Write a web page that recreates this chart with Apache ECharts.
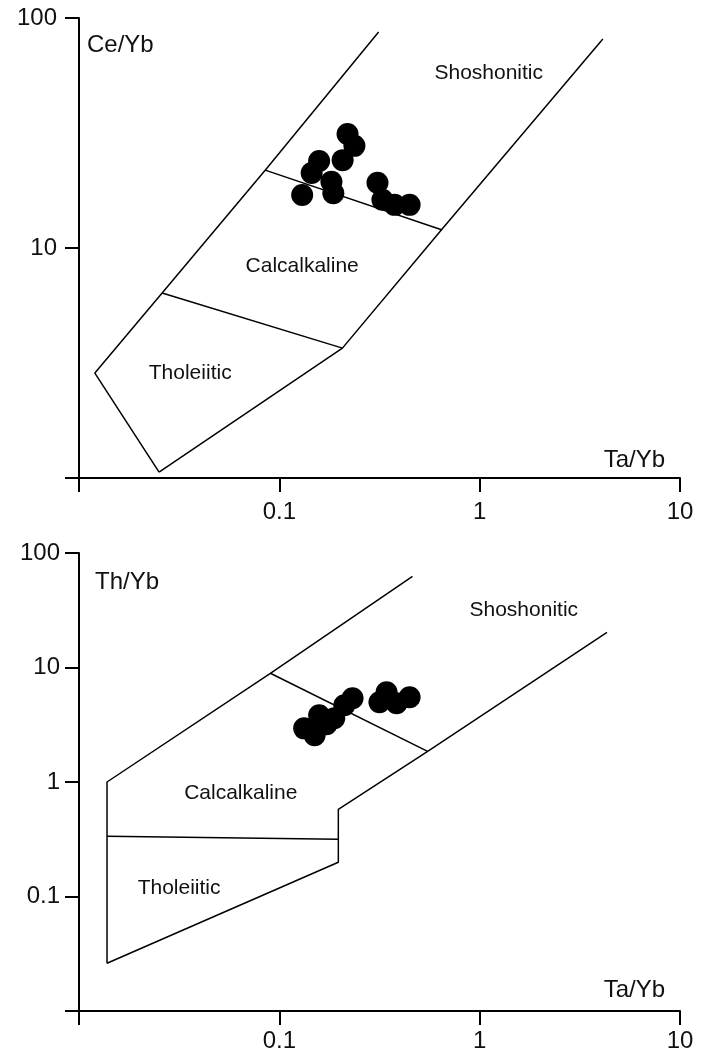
<!DOCTYPE html>
<html>
<head>
<meta charset="utf-8">
<script src="https://cdn.jsdelivr.net/npm/echarts@6/dist/echarts.min.js"></script>
<style>
  html, body { margin: 0; padding: 0; background: #fff; }
  #chart { width: 701px; height: 1057px; }
</style>
</head>
<body>
<div id="chart"></div>
<script>
// ---- Ce/Yb vs Ta/Yb (upper diagram) ----
const ceSamplesTa = [0.130, 0.145, 0.158, 0.182, 0.186, 0.207, 0.219, 0.237, 0.309, 0.327, 0.376, 0.447];
const ceSamplesCe = [17.0, 21.2, 23.9, 19.4, 17.3, 24.1, 31.3, 27.8, 19.2, 16.2, 15.4, 15.4];

// field boundaries, [Ta/Yb, Ce/Yb]
const ceOuterLeft   = [[0.0251, 1.06], [0.0120, 2.86], [0.026, 6.37], [0.085, 21.8], [0.313, 86.9]];
const ceOuterRight  = [[0.0251, 1.06], [0.2065, 3.67], [0.645, 12.0], [4.12, 81.1]];
const ceTholCalc    = [[0.026, 6.37], [0.2065, 3.67]];
const ceCalcShosh   = [[0.085, 21.8], [0.645, 12.0]];

const ceFieldNames  = ['Shoshonitic', 'Calcalkaline', 'Tholeiitic'];
const ceFieldAnchor = [[1.11, 57.7], [0.130, 8.35], [0.0359, 2.86]];

// ---- Th/Yb vs Ta/Yb (lower diagram) ----
const thSamplesTa = [0.133, 0.150, 0.158, 0.172, 0.188, 0.211, 0.232, 0.316, 0.343, 0.385, 0.447];
const thSamplesTh = [2.94, 2.56, 3.83, 3.19, 3.60, 4.68, 5.38, 4.97, 6.07, 4.87, 5.49];

const thOuterLeft   = [[0.0138, 0.0261], [0.0138, 1.0], [0.0902, 8.9], [0.462, 62.6]];
const thOuterRight  = [[0.0138, 0.0261], [0.197, 0.199], [0.197, 0.578], [0.55, 1.85], [4.32, 20.3]];
const thTholCalc    = [[0.0138, 0.336], [0.197, 0.316]];
const thCalcShosh   = [[0.0902, 8.9], [0.55, 1.85]];

const thFieldNames  = ['Shoshonitic', 'Calcalkaline', 'Tholeiitic'];
const thFieldAnchor = [[1.66, 31.6], [0.0642, 0.796], [0.0316, 0.118]];

// tick labels keyed by decade exponent
const taTickLabels  = { '-2': '', '-1': '0.1', '0': '1', '1': '10' };
const ceTickLabels  = { '0': '', '1': '10', '2': '100' };
const thTickLabels  = { '-2': '', '-1': '0.1', '0': '1', '1': '10', '2': '100' };

const FONT = "'Liberation Sans', Arial, sans-serif";
const INK = '#111';
const AXIS_FONT = 24;

function decadeFormatter(map) {
  return function (v) {
    const k = String(Math.round(Math.log10(v)));
    return map[k] !== undefined ? map[k] : '';
  };
}

function tickLabelStyle(margin, map) {
  return {
    color: INK, fontSize: AXIS_FONT, fontFamily: FONT, margin: margin,
    showMinLabel: true, showMaxLabel: true, formatter: decadeFormatter(map)
  };
}

function logAxis(opts) {
  return Object.assign({
    type: 'log',
    logBase: 10,
    nameMoveOverlap: false,
    axisLine: { show: true, onZero: false, lineStyle: { color: '#000', width: 2 } },
    axisTick: { show: true, inside: false, length: 14, lineStyle: { color: '#000', width: 2 } },
    splitLine: { show: false },
    minorTick: { show: false }
  }, opts);
}

function boundary(data, gi) {
  return {
    type: 'line', xAxisIndex: gi, yAxisIndex: gi, data: data,
    symbol: 'none', silent: true, z: 2,
    lineStyle: { color: '#000', width: 1.5 }
  };
}

function samples(xs, ys, gi) {
  return {
    type: 'scatter', xAxisIndex: gi, yAxisIndex: gi,
    data: xs.map((x, i) => [x, ys[i]]),
    symbol: 'circle', symbolSize: 22, z: 3,
    itemStyle: { color: '#000', opacity: 1 }
  };
}

function fieldLabels(names, anchors, gi) {
  return {
    type: 'scatter', xAxisIndex: gi, yAxisIndex: gi,
    data: anchors.map((p, i) => ({ value: p, name: names[i] })),
    symbolSize: 1, silent: true, z: 4,
    itemStyle: { color: 'rgba(0,0,0,0)', opacity: 1 },
    label: {
      show: true, position: 'inside', formatter: '{b}', opacity: 1,
      color: INK, fontSize: 21, fontFamily: FONT
    }
  };
}

const chart = echarts.init(document.getElementById('chart'), null, { renderer: 'canvas' });

chart.setOption({
  animation: false,
  backgroundColor: '#fff',
  grid: [
    { left: 79, top: 18, width: 601, height: 460, outerBoundsMode: 'none', containLabel: false },
    { left: 79, top: 553, width: 601, height: 458, outerBoundsMode: 'none', containLabel: false }
  ],
  xAxis: [
    logAxis({
      gridIndex: 0, min: 0.01, max: 10,
      name: 'Ta/Yb', nameLocation: 'end', nameGap: -15,
      nameTextStyle: { color: INK, fontSize: AXIS_FONT, fontFamily: FONT, align: 'right', verticalAlign: 'bottom', lineHeight: 36 },
      axisLabel: tickLabelStyle(22, taTickLabels)
    }),
    logAxis({
      gridIndex: 1, min: 0.01, max: 10,
      name: 'Ta/Yb', nameLocation: 'end', nameGap: -15,
      nameTextStyle: { color: INK, fontSize: AXIS_FONT, fontFamily: FONT, align: 'right', verticalAlign: 'bottom', lineHeight: 42 },
      axisLabel: tickLabelStyle(18, taTickLabels)
    })
  ],
  yAxis: [
    logAxis({
      gridIndex: 0, min: 1, max: 100,
      name: 'Ce/Yb', nameLocation: 'end', nameGap: -27,
      nameTextStyle: { color: INK, fontSize: AXIS_FONT, fontFamily: FONT, align: 'left', verticalAlign: 'middle', padding: [0, 0, 0, 8] },
      axisLabel: tickLabelStyle(22, ceTickLabels)
    }),
    logAxis({
      gridIndex: 1, min: 0.01, max: 100,
      name: 'Th/Yb', nameLocation: 'end', nameGap: -29,
      nameTextStyle: { color: INK, fontSize: AXIS_FONT, fontFamily: FONT, align: 'left', verticalAlign: 'middle', padding: [0, 0, 0, 16] },
      axisLabel: tickLabelStyle(19, thTickLabels)
    })
  ],
  series: [
    boundary(ceOuterLeft, 0),
    boundary(ceOuterRight, 0),
    boundary(ceTholCalc, 0),
    boundary(ceCalcShosh, 0),
    samples(ceSamplesTa, ceSamplesCe, 0),
    fieldLabels(ceFieldNames, ceFieldAnchor, 0),

    boundary(thOuterLeft, 1),
    boundary(thOuterRight, 1),
    boundary(thTholCalc, 1),
    boundary(thCalcShosh, 1),
    samples(thSamplesTa, thSamplesTh, 1),
    fieldLabels(thFieldNames, thFieldAnchor, 1)
  ]
});
</script>
</body>
</html>
